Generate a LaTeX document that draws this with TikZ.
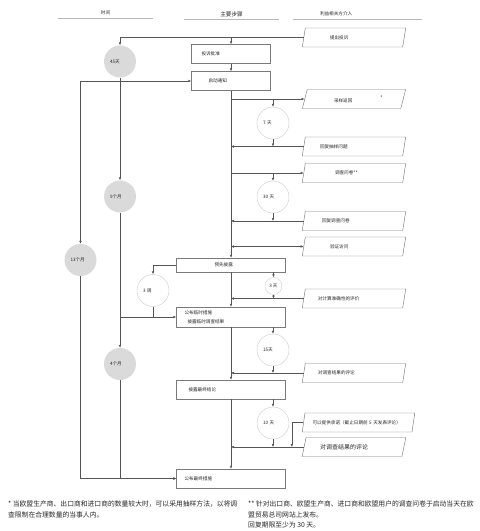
\documentclass[tikz,border=0pt]{standalone}
\usepackage{fontspec}
\setmainfont{Noto Sans CJK SC}
\usepackage{xcolor}
\usepackage{tikz}
\usetikzlibrary{positioning,arrows.meta,shapes.geometric}
\definecolor{linegray}{HTML}{555555}
\definecolor{boxgray}{HTML}{7A7A7A}
\definecolor{fillgray}{HTML}{DADADA}
\definecolor{ringgray}{HTML}{CFCFCF}
\definecolor{headgray}{HTML}{B8B8B8}
\tikzset{
	every picture/.style={x=1pt, y=-1pt},
	every node/.style={font=\fontsize{4.6}{6}\selectfont, inner sep=0, text=black!85},
	>={Latex[length=3pt,width=2.6pt]},
	line/.style={draw=linegray, line width=0.45pt},
	stepbox/.style={draw=boxgray, line width=0.45pt, rectangle, minimum width=109pt, minimum height=19pt, text width=93pt, align=left},
	smallbox/.style={stepbox, minimum width=79pt, text width=63pt},
	party/.style={draw=boxgray, line width=0.45pt, trapezium, trapezium left angle=62, trapezium right angle=118, trapezium stretches=true, minimum width=104pt, minimum height=19pt, text width=72pt, align=left},
	period/.style={circle, fill=fillgray, minimum size=32pt, text width=20pt, align=left},
	delay/.style={circle, draw=ringgray, line width=0.45pt, fill=white, minimum size=32pt, text width=20pt, align=left},
	shortdelay/.style={circle, draw=ringgray, line width=0.45pt, fill=white, minimum size=17pt},
	head/.style={minimum height=10pt},
	hline/.style={draw=headgray, line width=0.5pt},
	note/.style={font=\fontsize{6.8}{10.5}\selectfont, align=left, anchor=north west}
}
\newcommand{\pad}[1]{\hspace*{#1pt}}

\begin{document}
\begin{tikzpicture}
\useasboundingbox (0,0) rectangle (480,531);

\node[head, minimum width=95pt] (hTime) at (105.5,13) {时间};
\node[head, minimum width=95pt, font=\fontsize{5.6}{7}\selectfont] (hMain) at (231.5,14) {主要步骤};
\node[head, minimum width=129pt, text width=129pt, align=left] (hParty) at (357.5,14) {\pad{27}利益相关方介入};
\draw[hline] (hTime.south west) -- (hTime.south east);
\draw[hline] (hMain.south west) -- (hMain.south east);
\draw[hline] (hParty.south west) -- (hParty.south east);

\node[smallbox] (b1) at (231,54) {\pad{2}投诉批准};
\node[smallbox] (b2) at (231,81) {\pad{9}启动通知};
\node[stepbox, minimum height=14pt] (b3) at (231,265) {\pad{30}预先披露};
\node[stepbox, minimum height=20pt, font=\fontsize{4.6}{9}\selectfont] (b4) at (231,317) {公布临时措施\\\pad{3}披露临时调查结果};
\node[stepbox] (b5) at (231,389.5) {\pad{4}披露最终结论};
\node[stepbox] (b6) at (231,478.5) {公布最终措施};

\node[party] (pComp) at (354,37.5) {\pad{12}提出投诉};
\node[party] (pSamp) at (354,99) {\pad{16}采样返回\hspace{28pt}\raisebox{3pt}{*}};
\node[party] (pSampR) at (354,146.5) {\pad{2}回复抽样问题};
\node[party] (pQ) at (354,173) {\pad{17}调查问卷**};
\node[party] (pQR) at (354,221) {\pad{4}回复调查问卷};
\node[party] (pVer) at (354,246.5) {\pad{12}验证访问};
\node[party] (pCalc) at (354,298.5) {对计算准确性的评价};
\node[party] (pCom1) at (354,373) {对调查结果的评论};
\node[party, minimum width=113pt, text width=92pt] (pUnd) at (358.5,422.5) {可以提供承诺（截止日期前 5 天发表评论）};
\node[party, font=\fontsize{6}{7}\selectfont] (pCom2) at (354,447) {\pad{2}对调查结果的评论};

\node[period] (c45) at (120,61.5) {45天};
\node[period] (c9) at (120,196.5) {9个月};
\node[period] (c13) at (80.5,260) {13个月};
\node[period] (c4) at (120,364) {4个月};

\node[delay] (d7) at (273,123) {7 天};
\node[delay] (d30) at (273,197) {30 天};
\node[delay] (w3) at (153,290.5) {3 周};
\node[shortdelay] (d3) at (273.5,286) {3 天};
\node[delay] (d15) at (273,350) {15天};
\node[delay] (d10) at (273,423) {10 天};

\node[note] (n1) at (8,501) {* 当欧盟生产商、出口商和进口商的数量较大时，可以采用抽样方法，以将调\\查限制在合理数量的当事人内。};
\node[note] (n2) at (248,501) {** 针对出口商、欧盟生产商、进口商和欧盟用户的调查问卷于启动当天在欧\\盟贸易总司网站上发布。\\回复期限至少为 30 天。};

% time column
\draw[line,->] (pComp.west) -| (c45.north);
\draw[line,->] (b1.north |- pComp.west) -- (b1.north);
\draw[line,->] (c13.north |- b2.west) -- (b2.west);
\draw[line,->] (c13.north |- b2.west) -- (c13.north);
\draw[line,->] (c45) -- (c9);
\draw[line,->] (c9) -- (c4);
\draw[line,->] (c9.south |- b4.west) -- (b4.west);
\draw[line,->] (b3.west) -| (w3.north);
\draw[line] (w3.south) -- (w3.south |- b4.west);
\draw[line,->] (c4.south) |- (b6.west);
\draw[line,->] (c13.south) |- (b6.west);

% main steps
\draw[line,->] (b1) -- (b2);
\draw[line,->] (b2) -- (b3);
\draw[line,->] (b3) -- (b4);
\draw[line,->] (b4) -- (b5);
\draw[line,->] (b5) -- (b6);

% interested parties
\draw[line,->] (b2.south |- pSamp.west) -- (pSamp.west);
\draw[line,->] (d7.north |- pSamp.west) -- (d7.north);
\draw[line,->] (pSampR.west) -- (pSampR.west -| b2.south);
\draw[line,->] (d7.south) -- (d7.south |- pSampR.west);
\draw[line,->] (b2.south |- pQ.west) -- (pQ.west);
\draw[line,->] (d30.north |- pQ.west) -- (d30.north);
\draw[line,->] (pQR.west) -- (pQR.west -| b2.south);
\draw[line,->] (d30.south) -- (d30.south |- pQR.west);
\draw[line,<->] (b2.south |- pVer.west) -- (pVer.west);
\draw[line,->] (d3.north |- b3.south) -- (d3.north);
\draw[line,->] (pCalc.west) -- (pCalc.west -| b3.south);
\draw[line,->] (d3.south) -- (d3.south |- pCalc.west);
\draw[line,->] (d15.north |- b4.south) -- (d15.north);
\draw[line,->] (pCom1.west) -- (pCom1.west -| b4.south);
\draw[line,->] (d15.south) -- (d15.south |- pCom1.west);
\draw[line,->] (d10.north |- b5.south) -- (d10.north);
\draw[line,->] (pCom2.west) -- (pCom2.west -| b5.south);
\draw[line,->] (d10.south) -- (d10.south |- pCom2.west);
\draw[line,->] (pUnd.west) -| ([xshift=-12pt]pCom2.west);
\end{tikzpicture}
\end{document}
